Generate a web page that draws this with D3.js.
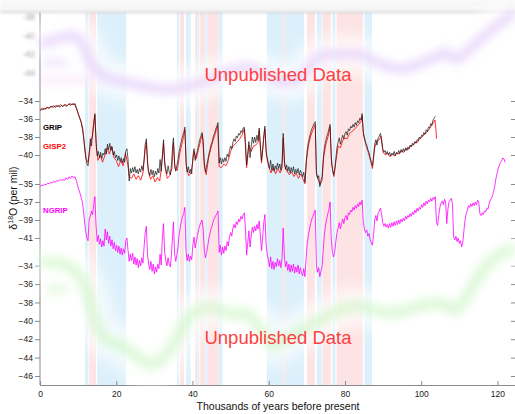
<!DOCTYPE html>
<html><head><meta charset="utf-8">
<script src="https://cdn.jsdelivr.net/npm/d3@7"></script>
<style>
body{margin:0;background:#fff}
svg{display:block;font-family:"Liberation Sans",Arial,Helvetica,sans-serif}
</style>
</head><body>
<svg id="chart" width="515" height="414"></svg>
<script>
// ---------------- data ----------------
const xTicks = [0, 20, 40, 60, 80, 100, 120];
const upperTicks = [-38, -40, -42, -44];
const gripTicks = [-34, -36, -38, -40];
const ngripTicks = [-35, -37, -39, -41];
const lowerTicks = [-34, -36, -38, -40, -42, -44, -46];

// stadial (blue) and interstadial (pink) bands, kyr BP
const blueBands = [[11.8,12.7],[15.0,22.6],[35.9,36.5],[38.3,39.5],[41.3,41.8],[43.4,44.0],[46.8,47.9],[59.5,63.8],[64.3,69.3],[72.6,73.9],[76.7,77.5],[85.1,87.1]];
const pinkBands = [[12.9,14.7],[36.7,37.8],[40.7,41.3],[42.0,43.3],[44.1,46.8],[63.8,64.3],[70.0,72.1],[74.1,76.3],[77.8,84.7]];

// GRIP d18O [age kyr, per mil]
const grip = [[0,-35.1],[0.4,-34.9],[0.8,-35.0],[1.2,-34.8],[1.6,-34.9],[2.0,-34.7],[2.4,-34.8],[2.8,-34.6],[3.2,-34.7],[3.6,-34.5],[4.0,-34.7],[4.4,-34.6],[4.8,-34.5],[5.2,-34.7],[5.6,-34.5],[6.0,-34.6],[6.4,-34.4],[6.8,-34.6],[7.2,-34.5],[7.6,-34.3],[8.0,-34.5],[8.4,-34.3],[8.8,-34.4],[9.2,-34.3],[9.6,-34.8],[10.0,-35.4],[10.4,-35.9],[10.8,-36.4],[11.2,-37.0],[11.6,-38.6],[12.0,-40.1],[12.3,-41.0],[12.6,-41.2],[12.9,-39.8],[13.2,-38.2],[13.5,-39.0],[13.8,-37.6],[14.1,-36.6],[14.4,-35.4],[14.7,-38.5],[15.0,-40.1],[15.3,-39.6],[15.6,-40.3],[15.9,-39.7],[16.2,-40.4],[16.5,-39.8],[16.8,-40.0],[17.1,-39.3],[17.4,-39.9],[17.7,-38.8],[18.0,-39.4],[18.3,-38.7],[18.6,-39.5],[18.9,-39.1],[19.2,-40.0],[19.5,-39.6],[19.8,-40.3],[20.1,-40.0],[20.4,-40.6],[20.7,-40.1],[21.0,-40.7],[21.3,-40.3],[21.6,-40.9],[21.9,-40.4],[22.2,-40.8],[22.5,-39.6],[22.8,-39.3],[23.1,-40.5],[23.4,-42.9],[23.7,-41.5],[24.0,-42.0],[24.3,-41.4],[24.6,-41.9],[24.9,-41.3],[25.2,-42.0],[25.5,-41.6],[25.8,-42.1],[26.1,-41.5],[26.4,-41.9],[26.7,-41.2],[27.0,-41.7],[27.3,-40.5],[27.6,-38.8],[27.9,-38.2],[28.2,-40.9],[28.5,-41.8],[28.8,-42.3],[29.1,-41.6],[29.4,-42.2],[29.7,-41.7],[30.0,-42.4],[30.3,-41.8],[30.6,-42.2],[30.9,-41.5],[31.2,-42.0],[31.5,-40.5],[31.8,-41.8],[32.1,-40.2],[32.4,-38.3],[32.7,-40.8],[33.0,-41.6],[33.3,-42.1],[33.6,-41.2],[33.9,-41.9],[34.2,-42.2],[34.5,-41.0],[34.8,-39.0],[35.0,-38.1],[35.3,-40.9],[35.6,-41.8],[35.9,-41.2],[36.2,-40.5],[36.5,-39.6],[36.8,-39.0],[37.1,-38.4],[37.4,-37.9],[37.7,-37.5],[38.0,-36.9],[38.3,-40.8],[38.6,-41.9],[38.9,-41.3],[39.2,-42.0],[39.5,-41.6],[39.8,-42.1],[40.1,-40.2],[40.4,-39.3],[40.7,-40.6],[41.0,-40.0],[41.3,-39.5],[41.6,-38.9],[41.9,-38.3],[42.2,-37.9],[42.5,-37.5],[42.8,-38.4],[43.1,-40.8],[43.4,-41.9],[43.7,-41.2],[44.0,-40.6],[44.3,-39.9],[44.6,-39.4],[44.9,-38.8],[45.2,-38.5],[45.5,-37.9],[45.8,-37.6],[46.1,-37.1],[46.4,-36.8],[46.7,-36.4],[47.0,-40.9],[47.3,-40.3],[47.6,-41.0],[47.9,-40.4],[48.2,-40.8],[48.5,-40.3],[48.8,-40.7],[49.1,-39.9],[49.4,-40.2],[49.7,-39.5],[50.0,-39.0],[50.3,-39.3],[50.6,-38.6],[50.9,-38.2],[51.2,-38.5],[51.5,-37.9],[51.8,-38.1],[52.1,-37.6],[52.4,-37.8],[52.7,-37.3],[53.0,-37.5],[53.3,-37.0],[53.6,-36.9],[53.9,-38.6],[54.2,-41.1],[54.5,-39.8],[54.8,-38.5],[55.1,-40.3],[55.4,-39.1],[55.7,-38.0],[56.0,-38.7],[56.3,-38.0],[56.6,-38.6],[56.9,-37.8],[57.2,-38.4],[57.5,-37.0],[57.8,-38.9],[58.1,-40.6],[58.4,-39.4],[58.7,-37.8],[59.0,-36.8],[59.3,-39.5],[59.6,-40.3],[59.9,-40.9],[60.2,-41.5],[60.5,-40.6],[60.8,-41.7],[61.1,-41.0],[61.4,-41.8],[61.7,-41.2],[62.0,-41.6],[62.3,-40.9],[62.6,-41.5],[62.9,-41.0],[63.2,-41.7],[63.5,-40.8],[63.8,-37.6],[64.1,-40.7],[64.4,-41.6],[64.7,-41.1],[65.0,-41.8],[65.3,-41.3],[65.6,-42.0],[65.9,-41.4],[66.2,-41.9],[66.5,-41.3],[66.8,-42.1],[67.1,-41.6],[67.4,-42.0],[67.7,-41.5],[68.0,-42.2],[68.3,-41.7],[68.6,-42.0],[68.9,-42.4],[69.2,-41.9],[69.5,-43.0],[69.8,-41.0],[70.1,-39.4],[70.4,-38.6],[70.7,-38.0],[71.0,-37.5],[71.3,-37.1],[71.6,-36.8],[71.9,-36.5],[72.2,-36.3],[72.5,-41.8],[72.8,-42.6],[73.1,-42.3],[73.4,-43.5],[73.7,-42.8],[74.0,-42.4],[74.3,-40.5],[74.6,-39.2],[74.9,-38.5],[75.2,-38.0],[75.5,-37.6],[75.8,-37.1],[76.1,-36.6],[76.4,-40.2],[76.7,-41.6],[77.0,-42.2],[77.3,-41.7],[77.6,-40.4],[77.9,-39.2],[78.2,-38.6],[78.5,-38.1],[78.8,-38.8],[79.1,-38.3],[79.4,-37.8],[79.7,-38.2],[80.0,-37.6],[80.3,-37.4],[80.6,-37.8],[80.9,-37.1],[81.2,-37.3],[81.5,-36.8],[81.8,-37.0],[82.1,-36.6],[82.4,-36.9],[82.7,-36.4],[83.0,-36.7],[83.3,-36.2],[83.6,-36.4],[83.9,-35.9],[84.2,-36.1],[84.5,-35.4],[84.8,-37.5],[85.1,-38.0],[85.4,-38.6],[85.7,-38.9],[86.0,-39.4],[86.3,-39.7],[86.6,-40.3],[86.9,-40.8],[87.2,-41.2],[87.5,-40.1],[87.8,-38.8],[88.1,-38.3],[88.4,-38.9],[88.7,-38.1],[89.0,-37.9],[89.3,-37.6],[89.6,-38.2],[89.9,-39.3],[90.2,-39.7],[90.5,-39.5],[90.8,-39.9],[91.1,-39.6],[91.4,-40.0],[91.7,-39.7],[92.0,-40.1],[92.3,-39.8],[92.6,-40.0],[92.9,-39.6],[93.2,-40.1],[93.5,-39.7],[93.8,-39.9],[94.1,-39.5],[94.4,-39.8],[94.7,-39.4],[95.0,-39.7],[95.3,-39.3],[95.6,-39.6],[95.9,-39.2],[96.2,-39.5],[96.5,-39.1],[96.8,-39.3],[97.1,-38.9],[97.4,-39.1],[97.7,-38.7],[98.0,-38.9],[98.3,-38.5],[98.6,-38.7],[98.9,-38.3],[99.2,-38.4],[99.5,-38.0],[99.8,-38.2],[100.1,-37.8],[100.4,-37.9],[100.7,-37.5],[101.0,-37.7],[101.3,-37.2],[101.6,-37.4],[101.9,-36.9],[102.2,-37.0],[102.5,-36.5],[102.8,-36.7],[103.1,-36.1],[103.4,-35.9],[103.7,-35.7]];

// GISP2 d18O [age kyr, per mil]
const gisp2 = [[0,-35.0],[0.6,-34.8],[1.2,-34.9],[1.8,-34.7],[2.4,-34.8],[3.0,-34.6],[3.6,-34.7],[4.2,-34.5],[4.8,-34.6],[5.4,-34.4],[6.0,-34.6],[6.6,-34.4],[7.2,-34.5],[7.8,-34.3],[8.4,-34.4],[9.0,-34.3],[9.6,-34.9],[10.2,-35.6],[10.8,-36.3],[11.4,-37.9],[12.0,-40.4],[12.6,-40.8],[13.0,-39.6],[13.4,-38.4],[13.8,-37.8],[14.1,-36.3],[14.4,-35.6],[14.8,-39.2],[15.2,-40.6],[15.8,-40.0],[16.4,-40.8],[17.0,-40.1],[17.6,-39.2],[18.2,-39.9],[18.8,-39.0],[19.4,-40.3],[20.0,-40.6],[20.6,-41.3],[21.2,-40.6],[21.8,-41.2],[22.4,-39.8],[23.0,-41.0],[23.4,-42.4],[24.0,-42.6],[24.6,-42.1],[25.2,-42.7],[25.8,-42.3],[26.4,-42.8],[27.0,-42.0],[27.6,-39.4],[27.9,-38.6],[28.4,-41.8],[29.0,-42.7],[29.6,-42.3],[30.2,-43.0],[30.8,-42.5],[31.4,-42.9],[31.8,-41.6],[32.4,-38.7],[32.8,-41.4],[33.4,-42.6],[34.0,-42.3],[34.6,-41.5],[35.0,-38.6],[35.4,-41.5],[36.0,-41.7],[36.6,-40.0],[37.2,-38.8],[37.7,-37.9],[38.0,-37.2],[38.4,-41.4],[39.0,-42.3],[39.6,-42.0],[40.1,-40.7],[40.4,-39.6],[41.0,-40.4],[41.6,-39.3],[42.2,-38.3],[42.6,-37.7],[43.1,-41.2],[43.6,-42.2],[44.2,-40.4],[44.8,-39.3],[45.4,-38.4],[46.0,-37.6],[46.6,-36.7],[47.0,-41.3],[47.6,-41.4],[48.2,-41.0],[48.8,-41.2],[49.4,-40.6],[50.0,-39.6],[50.6,-39.0],[51.2,-38.8],[51.8,-38.5],[52.4,-38.2],[53.0,-37.8],[53.6,-37.1],[54.2,-41.4],[54.8,-38.9],[55.4,-39.6],[56.0,-39.0],[56.6,-38.9],[57.2,-38.6],[57.5,-37.3],[58.1,-40.9],[58.7,-38.2],[59.0,-37.1],[59.4,-40.1],[60.0,-41.3],[60.6,-42.0],[61.2,-41.4],[61.8,-42.1],[62.4,-41.5],[63.0,-42.0],[63.5,-41.4],[63.8,-38.1],[64.2,-41.2],[64.8,-41.8],[65.4,-42.2],[66.0,-41.9],[66.6,-42.4],[67.2,-42.0],[67.8,-42.6],[68.4,-42.1],[69.0,-42.7],[69.5,-43.2],[69.9,-40.6],[70.4,-39.0],[71.0,-37.9],[71.6,-37.2],[72.2,-36.6],[72.5,-42.1],[73.1,-42.9],[73.5,-43.3],[74.0,-42.8],[74.4,-40.2],[75.0,-38.8],[75.6,-37.9],[76.1,-36.9],[76.5,-41.0],[77.1,-42.4],[77.6,-40.8],[78.2,-39.0],[78.8,-39.2],[79.4,-38.4],[80.0,-38.1],[80.6,-38.2],[81.2,-37.6],[81.8,-37.4],[82.4,-37.2],[83.0,-36.9],[83.6,-36.6],[84.2,-36.3],[84.5,-35.7],[84.9,-37.9],[85.5,-38.9],[86.1,-39.7],[86.7,-40.6],[87.2,-41.5],[87.8,-39.2],[88.4,-38.4],[89.0,-38.3],[89.4,-37.9],[90.0,-39.7],[90.6,-40.0],[91.2,-39.8],[91.8,-40.2],[92.4,-39.9],[93.0,-40.1],[93.6,-39.8],[94.2,-39.9],[94.8,-39.5],[95.4,-39.7],[96.0,-39.3],[96.6,-39.4],[97.2,-39.0],[97.8,-38.9],[98.4,-38.6],[99.0,-38.6],[99.6,-38.2],[100.2,-38.0],[100.8,-37.7],[101.4,-37.5],[102.0,-37.2],[102.6,-36.8],[103.2,-36.4],[103.6,-36.1],[103.9,-37.4],[104.0,-38.2]];

// NGRIP d18O [age kyr, per mil]
const ngrip = [[0,-35.3],[0.4,-35.1],[0.8,-35.2],[1.2,-35.0],[1.6,-35.1],[2.0,-34.9],[2.4,-35.0],[2.8,-34.8],[3.2,-34.9],[3.6,-34.7],[4.0,-34.8],[4.4,-34.6],[4.8,-34.7],[5.2,-34.5],[5.6,-34.6],[6.0,-34.5],[6.4,-34.6],[6.8,-34.3],[7.2,-34.5],[7.6,-34.2],[8.0,-34.4],[8.4,-34.1],[8.8,-34.3],[9.2,-34.2],[9.6,-34.7],[10.0,-35.4],[10.4,-35.9],[10.8,-36.5],[11.2,-37.2],[11.6,-38.8],[12.0,-40.3],[12.3,-41.0],[12.6,-41.3],[12.9,-38.9],[13.2,-38.6],[13.5,-38.0],[13.8,-38.4],[14.1,-37.2],[14.4,-36.4],[14.7,-39.5],[15.0,-41.4],[15.3,-40.7],[15.6,-41.7],[15.9,-41.1],[16.2,-42.0],[16.5,-41.3],[16.8,-41.9],[17.1,-40.0],[17.4,-41.2],[17.7,-40.3],[18.0,-41.6],[18.3,-40.8],[18.6,-41.9],[18.9,-41.2],[19.2,-42.2],[19.5,-41.5],[19.8,-42.4],[20.1,-41.8],[20.4,-42.6],[20.7,-41.9],[21.0,-42.8],[21.3,-42.1],[21.6,-42.9],[21.9,-42.2],[22.2,-42.7],[22.5,-41.3],[22.8,-41.0],[23.1,-42.4],[23.4,-43.6],[23.7,-42.8],[24.0,-43.5],[24.3,-42.7],[24.6,-43.9],[24.9,-43.1],[25.2,-44.0],[25.5,-43.3],[25.8,-44.3],[26.1,-43.5],[26.4,-44.1],[26.7,-43.2],[27.0,-43.8],[27.3,-42.0],[27.6,-40.4],[27.9,-39.7],[28.2,-42.8],[28.5,-43.9],[28.8,-44.5],[29.1,-43.6],[29.4,-44.7],[29.7,-43.9],[30.0,-45.0],[30.3,-44.2],[30.6,-44.8],[30.9,-43.9],[31.2,-44.4],[31.5,-42.8],[31.8,-44.0],[32.1,-41.0],[32.4,-39.4],[32.7,-42.6],[33.0,-43.5],[33.3,-44.1],[33.6,-43.2],[33.9,-43.9],[34.2,-44.2],[34.5,-42.8],[34.8,-40.6],[35.0,-39.2],[35.3,-42.7],[35.6,-43.6],[35.9,-42.9],[36.2,-42.0],[36.5,-40.6],[36.8,-39.8],[37.1,-39.1],[37.4,-38.6],[37.7,-38.3],[38.0,-37.6],[38.3,-42.4],[38.6,-43.5],[38.9,-42.8],[39.2,-43.6],[39.5,-43.0],[39.8,-43.4],[40.1,-41.8],[40.4,-40.9],[40.7,-42.1],[41.0,-41.4],[41.3,-40.7],[41.6,-40.1],[41.9,-39.6],[42.2,-39.3],[42.5,-39.0],[42.8,-40.0],[43.1,-42.4],[43.4,-43.2],[43.7,-42.6],[44.0,-41.9],[44.3,-41.0],[44.6,-40.5],[44.9,-39.9],[45.2,-39.6],[45.5,-39.0],[45.8,-38.8],[46.1,-38.5],[46.4,-38.3],[46.7,-38.0],[47.0,-42.6],[47.3,-41.8],[47.6,-42.9],[47.9,-42.0],[48.2,-42.7],[48.5,-41.9],[48.8,-42.4],[49.1,-41.4],[49.4,-41.9],[49.7,-40.9],[50.0,-40.4],[50.3,-40.8],[50.6,-39.9],[50.9,-39.5],[51.2,-39.9],[51.5,-39.2],[51.8,-39.5],[52.1,-38.9],[52.4,-39.2],[52.7,-38.6],[53.0,-38.9],[53.3,-38.4],[53.6,-38.2],[53.9,-40.0],[54.2,-42.9],[54.5,-41.5],[54.8,-40.2],[55.1,-42.0],[55.4,-40.8],[55.7,-39.8],[56.0,-40.4],[56.3,-39.7],[56.6,-40.2],[56.9,-39.5],[57.2,-40.0],[57.5,-39.1],[57.8,-40.6],[58.1,-42.4],[58.4,-41.0],[58.7,-39.3],[59.0,-38.4],[59.3,-41.6],[59.6,-42.8],[59.9,-43.4],[60.2,-44.2],[60.5,-43.1],[60.8,-44.4],[61.1,-43.6],[61.4,-44.5],[61.7,-43.7],[62.0,-44.2],[62.3,-43.3],[62.6,-44.1],[62.9,-43.5],[63.2,-44.3],[63.5,-43.2],[63.8,-39.9],[64.1,-43.1],[64.4,-44.2],[64.7,-43.6],[65.0,-44.6],[65.3,-43.9],[65.6,-44.8],[65.9,-44.0],[66.2,-44.7],[66.5,-43.9],[66.8,-44.9],[67.1,-44.2],[67.4,-44.8],[67.7,-44.0],[68.0,-45.0],[68.3,-44.3],[68.6,-44.9],[68.9,-45.2],[69.2,-44.4],[69.5,-45.3],[69.8,-43.3],[70.1,-41.6],[70.4,-40.7],[70.7,-40.0],[71.0,-39.4],[71.3,-38.9],[71.6,-38.6],[71.9,-38.2],[72.2,-37.9],[72.5,-44.0],[72.8,-44.8],[73.1,-44.3],[73.4,-45.3],[73.7,-44.7],[74.0,-44.2],[74.3,-42.3],[74.6,-40.6],[74.9,-39.6],[75.2,-38.9],[75.5,-38.3],[75.8,-37.8],[76.1,-37.0],[76.4,-41.0],[76.7,-42.6],[77.0,-43.1],[77.3,-42.5],[77.6,-41.4],[77.9,-40.4],[78.2,-39.9],[78.5,-39.3],[78.8,-40.0],[79.1,-39.4],[79.4,-38.9],[79.7,-39.4],[80.0,-38.7],[80.3,-38.5],[80.6,-39.0],[80.9,-38.2],[81.2,-38.4],[81.5,-37.9],[81.8,-38.1],[82.1,-37.6],[82.4,-37.9],[82.7,-37.4],[83.0,-37.7],[83.3,-37.2],[83.6,-37.5],[83.9,-37.0],[84.2,-37.3],[84.5,-36.8],[84.8,-39.2],[85.1,-40.0],[85.4,-40.4],[85.7,-40.1],[86.0,-40.8],[86.3,-40.5],[86.6,-41.2],[86.9,-41.5],[87.2,-41.8],[87.5,-40.6],[87.8,-39.0],[88.1,-38.5],[88.4,-39.1],[88.7,-38.2],[89.0,-38.0],[89.3,-37.7],[89.6,-38.3],[89.9,-39.3],[90.2,-39.7],[90.5,-39.4],[90.8,-39.8],[91.1,-39.5],[91.4,-39.9],[91.7,-39.4],[92.0,-39.8],[92.3,-39.3],[92.6,-39.7],[92.9,-39.2],[93.2,-39.6],[93.5,-39.1],[93.8,-39.5],[94.1,-39.0],[94.4,-39.4],[94.7,-38.9],[95.0,-39.2],[95.3,-38.8],[95.6,-39.1],[95.9,-38.6],[96.2,-38.9],[96.5,-38.5],[96.8,-38.7],[97.1,-38.3],[97.4,-38.6],[97.7,-38.1],[98.0,-38.4],[98.3,-37.9],[98.6,-38.2],[98.9,-37.7],[99.2,-38.0],[99.5,-37.6],[99.8,-37.8],[100.1,-37.3],[100.4,-37.6],[100.7,-37.1],[101.0,-37.4],[101.3,-36.9],[101.6,-37.2],[101.9,-36.8],[102.2,-37.0],[102.5,-36.6],[102.8,-36.9],[103.1,-36.5],[103.4,-36.7],[103.7,-36.4],[104.0,-39.3],[104.3,-39.6],[104.6,-38.5],[104.9,-37.6],[105.2,-37.1],[105.5,-36.9],[105.8,-37.3],[106.1,-36.7],[106.4,-37.0],[106.7,-39.4],[107.0,-37.8],[107.3,-37.0],[107.6,-36.8],[107.9,-36.6],[108.2,-37.2],[108.5,-40.9],[108.8,-41.2],[109.1,-40.8],[109.4,-41.4],[109.7,-41.0],[110.0,-41.6],[110.3,-41.3],[110.6,-42.0],[110.9,-41.5],[111.2,-40.2],[111.5,-39.0],[111.8,-38.3],[112.1,-37.9],[112.4,-37.4],[112.7,-37.6],[113.0,-37.2],[113.3,-37.5],[113.6,-37.1],[113.9,-37.4],[114.2,-37.0],[114.5,-37.3],[114.8,-36.8],[115.1,-37.1],[115.4,-38.3],[115.7,-38.5],[116.0,-38.2],[116.3,-38.4],[116.6,-38.0],[116.9,-38.1],[117.2,-37.7],[117.5,-37.8],[117.8,-37.2],[118.1,-36.8],[118.4,-36.6],[118.7,-36.3],[119.0,-35.8],[119.3,-35.2],[119.6,-34.4],[119.9,-33.8],[120.2,-33.3],[120.5,-32.9],[120.8,-32.6],[121.1,-32.4],[121.4,-32.1],[121.7,-32.2],[122.0,-32.6]];

// obscured ("unpublished") records, rough outline only
const upperCurve = [[0,-40.9],[5.2,-40.3],[10.5,-39.6],[12.6,-42.6],[15.7,-44.6],[23.6,-45.1],[28.9,-45.7],[34.1,-45.9],[39.4,-45.5],[44.6,-44.8],[49.9,-43.7],[55.1,-43.2],[60.4,-44.6],[65.6,-45.4],[69.6,-44.3],[72.2,-41.9],[78.7,-42.1],[84.5,-41.8],[87.9,-42.9],[91.9,-43.5],[95.7,-43.7],[100.2,-43.0],[104.9,-42.1],[106.8,-41.6],[108.9,-43.0],[112.3,-41.6],[117.5,-39.7],[122.8,-38.0],[124.6,-37.5]];
const upperCurve2 = [[0.8,-42.9],[4.0,-42.9],[7.1,-42.9]];
const upperCurve3 = [[0,-44.8],[7.0,-44.8],[14.0,-44.9]];
const lowerCurve = [[0,-33.6],[5.2,-33.6],[10.5,-34.5],[13.1,-37.7],[15.0,-41.3],[18.4,-42.4],[22.8,-42.8],[27.0,-44.6],[30.7,-45.0],[34.9,-42.8],[38.6,-39.6],[42.0,-38.5],[46.5,-38.5],[50.7,-39.6],[54.3,-38.8],[57.7,-40.7],[60.4,-43.2],[65.1,-41.8],[73.5,-39.9],[82.7,-37.7],[91.3,-39.6],[98.4,-38.5],[106.3,-37.7],[108.9,-39.6],[112.9,-36.6],[117.6,-33.4],[122.8,-32.3],[124.6,-32.1]];
const lowerCurve2 = [[1.8,-36.6],[4.5,-36.5],[7.1,-36.6]];

// ---------------- drawing ----------------
const svg = d3.select("#chart");
const W = 515, H = 414;
const x = d3.scaleLinear().domain([0, 124.6]).range([40, 515]);
const yUpper = d3.scaleLinear().domain([-38, -44]).range([17, 72.5]);
const yGrip = d3.scaleLinear().domain([-34, -40]).range([101, 155]);
const yNgrip = d3.scaleLinear().domain([-35, -41]).range([184, 238]);
const yLower = d3.scaleLinear().domain([-34, -46]).range([265.7, 376]);
const plotTop = 12, plotBottom = 385;

const defs = svg.append("defs");
function blur(id, sd) {
  defs.append("filter").attr("id", id).attr("filterUnits", "userSpaceOnUse")
    .attr("x", -50).attr("y", -50).attr("width", W + 100).attr("height", H + 100)
    .append("feGaussianBlur").attr("stdDeviation", sd);
}
blur("b8", 8); blur("b5", 5); blur("b2", 1.5);

svg.append("rect").attr("width", W).attr("height", H).attr("fill", "#fff");

// bands
svg.append("g").selectAll("rect").data(blueBands).join("rect")
  .attr("x", d => x(d[0])).attr("width", d => x(d[1]) - x(d[0]))
  .attr("y", plotTop).attr("height", plotBottom - plotTop).attr("fill", "#dcf0fb");
svg.append("g").selectAll("rect").data(pinkBands).join("rect")
  .attr("x", d => x(d[0])).attr("width", d => x(d[1]) - x(d[0]))
  .attr("y", plotTop).attr("height", plotBottom - plotTop).attr("fill", "#fde3e3");

// axes (left, right, bottom)
const axisCol = "#8a8a8a";
const ax = svg.append("g");
ax.append("line").attr("x1", 40).attr("x2", 40).attr("y1", plotTop).attr("y2", plotBottom).attr("stroke", axisCol);
ax.append("line").attr("x1", 40).attr("x2", 515).attr("y1", plotBottom + 0.5).attr("y2", plotBottom + 0.5).attr("stroke", axisCol);

function leftTicks(scale, ticks) {
  const g = ax.append("g").attr("transform", "translate(40,0)")
    .call(d3.axisLeft(scale).tickValues(ticks).tickSize(5).tickPadding(2).tickFormat(d3.format("d")));
  g.select(".domain").remove();
  g.selectAll("line").attr("stroke", axisCol);
  g.selectAll("text").attr("font-size", 8.5).attr("fill", "#222").attr("font-family", null);
  const r = ax.append("g").attr("transform", "translate(515,0)")
    .call(d3.axisLeft(scale).tickValues(ticks).tickSize(4).tickFormat(""));
  r.select(".domain").remove();
  r.selectAll("line").attr("stroke", axisCol);
}
leftTicks(yGrip, gripTicks);
leftTicks(yNgrip, ngripTicks);
leftTicks(yLower, lowerTicks);

const xa = ax.append("g").attr("transform", `translate(0,${plotBottom})`)
  .call(d3.axisTop(x).tickValues(xTicks).tickSize(4).tickFormat(d3.format("d")));
xa.select(".domain").remove();
xa.selectAll("line").attr("stroke", axisCol);
xa.selectAll("text").attr("y", 12).attr("dy", 0).attr("font-size", 8.5).attr("fill", "#222").attr("font-family", null);

// upper obscured panel
const up = svg.append("g");
up.append("rect").attr("x", 0).attr("y", 0).attr("width", W).attr("height", 11).attr("fill", "#f7f7f7").attr("filter", "url(#b2)");
up.append("line").attr("x1", 0).attr("x2", W).attr("y1", plotTop).attr("y2", plotTop)
  .attr("stroke", "#d6d6d6").attr("stroke-width", 2).attr("filter", "url(#b2)");
up.selectAll("text").data(upperTicks).join("text")
  .attr("x", 35).attr("y", d => yUpper(d) + 3).attr("text-anchor", "end")
  .attr("font-size", 8.5).attr("fill", "#999").attr("filter", "url(#b2)").text(d => d);
const lineU = d3.line().x(d => x(d[0])).y(d => yUpper(d[1])).curve(d3.curveBasis);
up.append("path").attr("d", lineU(upperCurve)).attr("fill", "none").attr("stroke", "#fff")
  .attr("stroke-width", 34).attr("stroke-opacity", 0.85).attr("filter", "url(#b8)");
up.append("path").attr("d", lineU(upperCurve)).attr("fill", "none").attr("stroke", "#cfa6f7")
  .attr("stroke-width", 9).attr("stroke-opacity", 0.45).attr("filter", "url(#b5)");
up.append("path").attr("d", lineU(upperCurve2)).attr("fill", "none").attr("stroke", "#cdb0f4")
  .attr("stroke-width", 7).attr("stroke-opacity", 0.35).attr("filter", "url(#b5)");
up.append("path").attr("d", lineU(upperCurve3)).attr("fill", "none").attr("stroke", "#f3b0f3")
  .attr("stroke-width", 6).attr("stroke-opacity", 0.3).attr("filter", "url(#b5)");

// lower obscured panel
const lo = svg.append("g");
const lineL = d3.line().x(d => x(d[0])).y(d => yLower(d[1])).curve(d3.curveBasis);
lo.append("path").attr("d", lineL(lowerCurve)).attr("fill", "none").attr("stroke", "#fff")
  .attr("stroke-width", 38).attr("stroke-opacity", 0.75).attr("filter", "url(#b8)");
lo.append("path").attr("d", lineL(lowerCurve)).attr("fill", "none").attr("stroke", "#b4f2a6")
  .attr("stroke-width", 11).attr("stroke-opacity", 0.45).attr("filter", "url(#b5)");
lo.append("path").attr("d", lineL(lowerCurve2)).attr("fill", "none").attr("stroke", "#c0f2b4")
  .attr("stroke-width", 9).attr("stroke-opacity", 0.4).attr("filter", "url(#b5)");

// data series
const lineG = d3.line().x(d => x(d[0])).y(d => yGrip(d[1]));
const lineN = d3.line().x(d => x(d[0])).y(d => yNgrip(d[1]));
svg.append("path").attr("d", lineG(gisp2)).attr("fill", "none").attr("stroke", "#ff1a1a").attr("stroke-width", 0.9);
svg.append("path").attr("d", lineG(grip)).attr("fill", "none").attr("stroke", "#111").attr("stroke-width", 0.8).attr("stroke-opacity", 0.85);
svg.append("path").attr("d", lineN(ngrip)).attr("fill", "none").attr("stroke", "#ff00ff").attr("stroke-width", 0.8);

// series labels
svg.append("text").attr("x", 43).attr("y", 130).attr("font-size", 7.8).attr("font-weight", "bold").attr("fill", "#000").text("GRIP");
svg.append("text").attr("x", 43).attr("y", 149).attr("font-size", 7.8).attr("font-weight", "bold").attr("fill", "#ff0000").text("GISP2");
svg.append("text").attr("x", 43).attr("y", 213).attr("font-size", 7.8).attr("font-weight", "bold").attr("fill", "#ff00ff").text("NGRIP");

// overlay notes
svg.append("text").attr("x", 278).attr("y", 81).attr("text-anchor", "middle").attr("font-size", 18.5).attr("fill", "#ff4040").text("Unpublished Data");
svg.append("text").attr("x", 278).attr("y", 344).attr("text-anchor", "middle").attr("font-size", 18.5).attr("fill", "#ff4040").text("Unpublished Data");

// axis titles
svg.append("text").attr("x", 278).attr("y", 410).attr("text-anchor", "middle").attr("font-size", 10.5).attr("fill", "#111").text("Thousands of years before present");
const yl = svg.append("text").attr("transform", "translate(17,198) rotate(-90)").attr("text-anchor", "middle").attr("font-size", 10.5).attr("fill", "#111");
yl.append("tspan").text("δ");
yl.append("tspan").attr("font-size", 7).attr("dy", -4).text("18");
yl.append("tspan").attr("dy", 4).text("O (per mil)");
</script>
</body></html>
